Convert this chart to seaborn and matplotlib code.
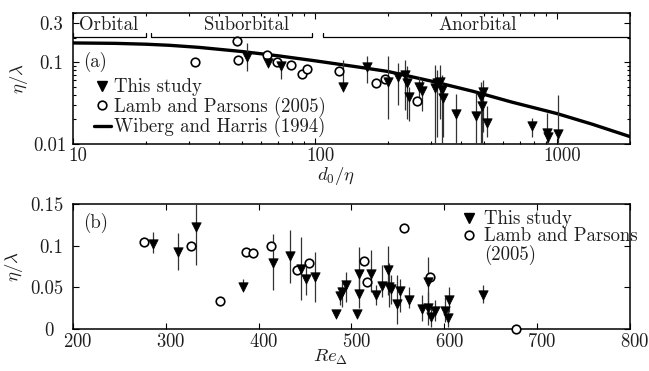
import numpy as np
import pandas as pd
import matplotlib
matplotlib.use('Agg')
import matplotlib.pyplot as plt
import matplotlib.transforms as mtransforms
from matplotlib.lines import Line2D
from matplotlib.ticker import FixedLocator, FixedFormatter, NullFormatter
import seaborn as sns

# ---------------- Panel (a): eta/lambda vs d0/eta ----------------
a_study_d = [52.4, 64.1, 72.6, 130, 164, 200, 220, 236, 240, 244, 268, 277,
             314, 320, 329, 336, 338, 381, 461, 485, 488, 495, 512,
             785, 904, 913, 1010]
a_study_eta = [0.117, 0.099, 0.090, 0.050, 0.088, 0.058, 0.066, 0.070, 0.055, 0.038,
               0.050, 0.045, 0.048, 0.055, 0.058, 0.046, 0.036, 0.0235, 0.0222,
               0.038, 0.029, 0.043, 0.018, 0.0165, 0.0137, 0.012, 0.0134]
a_study_lo = [0.077, 0.090, 0.062, 0.050, 0.055, 0.020, 0.030, 0.026, 0.020, 0.019,
              0.030, 0.025, 0.010, 0.012, 0.020, 0.010, 0.012, 0.010, 0.010,
              0.010, 0.010, 0.014, 0.0122, 0.012, 0.010, 0.010, 0.010]
a_study_hi = [0.171, 0.110, 0.098, 0.105, 0.120, 0.120, 0.097, 0.107, 0.090, 0.050,
              0.065, 0.060, 0.093, 0.080, 0.093, 0.070, 0.050, 0.041, 0.042,
              0.058, 0.045, 0.060, 0.029, 0.0205, 0.0236, 0.015, 0.040]

a_lp_d = [32.0, 47.6, 48.1, 63.3, 69.5, 79.4, 88.7, 93.0, 126, 179, 195, 263]
a_lp_eta = [0.100, 0.184, 0.105, 0.123, 0.100, 0.093, 0.071, 0.082, 0.079, 0.056, 0.0625, 0.034]

wh_d = [10, 15, 20, 25, 33, 50, 70, 100, 150, 200, 300, 450, 650, 1000, 1400, 2000]
wh_eta = [0.172, 0.170, 0.166, 0.161, 0.152, 0.135, 0.120, 0.104, 0.0875, 0.077,
          0.059, 0.044, 0.0325, 0.0235, 0.0174, 0.0123]

regime_names = ["Orbital", "Suborbital", "Anorbital"]
regime_start = [10, 21, 108]
regime_end = [20, 97, 2000]
regime_label_x = [14, 52, 469]

# ---------------- Panel (b): eta/lambda vs Re_Delta ----------------
b_study_re = [286, 313, 333, 383, 415, 434, 446, 451, 461, 483, 488, 490, 494, 506,
              508, 508, 521, 526, 533, 539, 540, 543, 549, 552, 562, 576, 582, 582,
              586, 590, 601, 604, 605, 642]
b_study_eta = [0.102, 0.092, 0.123, 0.051, 0.079, 0.088, 0.072, 0.060, 0.062, 0.0175,
               0.040, 0.045, 0.053, 0.0185, 0.066, 0.042, 0.066, 0.041, 0.052, 0.071,
               0.051, 0.048, 0.030, 0.046, 0.035, 0.024, 0.057, 0.025, 0.014, 0.022,
               0.022, 0.013, 0.035, 0.041]
b_study_lo = [0.091, 0.071, 0.077, 0.051, 0.047, 0.055, 0.035, 0.041, 0.033, 0.0175,
              0.029, 0.027, 0.033, 0.0185, 0.041, 0.025, 0.045, 0.029, 0.039, 0.041,
              0.026, 0.030, 0.006, 0.020, 0.025, 0.010, 0.025, 0.005, 0.002, 0.010,
              0.008, 0.003, 0.020, 0.031]
b_study_hi = [0.116, 0.115, 0.150, 0.060, 0.114, 0.119, 0.110, 0.074, 0.093, 0.0175,
              0.047, 0.056, 0.068, 0.0185, 0.099, 0.065, 0.095, 0.053, 0.077, 0.100,
              0.079, 0.065, 0.065, 0.060, 0.051, 0.041, 0.087, 0.045, 0.030, 0.035,
              0.038, 0.025, 0.050, 0.053]

b_lp_re = [276, 327, 358, 386, 394, 413, 441, 454, 513, 517, 557, 585, 677]
b_lp_eta = [0.104, 0.100, 0.034, 0.093, 0.091, 0.100, 0.071, 0.079, 0.082, 0.056,
            0.121, 0.063, 0.0]

# ---------------- style ----------------
sns.set_theme(style='ticks')
plt.rcParams['font.family'] = ['cmr10', 'DejaVu Serif']
plt.rcParams['mathtext.fontset'] = 'cm'
plt.rcParams['axes.formatter.use_mathtext'] = True
plt.rcParams['axes.unicode_minus'] = False
FS = 13.5
TC = '0.12'

fig = plt.figure(figsize=(6.49, 3.71), dpi=100)
ax1 = fig.add_axes([0.1125, 0.612, 0.8582, 0.353])
ax2 = fig.add_axes([0.1125, 0.113, 0.8582, 0.337])

tri_s = 46
circ_s = 38

# ----- panel (a)
da = pd.DataFrame({'d': a_study_d, 'eta': a_study_eta, 'lo': a_study_lo, 'hi': a_study_hi})
dl = pd.DataFrame({'d': a_lp_d, 'eta': a_lp_eta})
dw = pd.DataFrame({'d': wh_d, 'eta': wh_eta})

ax1.set_xscale('log')
ax1.set_yscale('log')
sns.lineplot(data=dw, x='d', y='eta', color='black', lw=2.4, ax=ax1, legend=False, zorder=2)
ax1.vlines(da['d'], da['lo'], da['hi'], color='0.2', lw=0.9, zorder=3)
sns.scatterplot(data=dl, x='d', y='eta', marker='o', s=circ_s, color='white',
                edgecolor='black', linewidth=1.2, ax=ax1, legend=False, zorder=4)
sns.scatterplot(data=da, x='d', y='eta', marker='v', s=tri_s, color='black',
                edgecolor='black', linewidth=0.5, ax=ax1, legend=False, zorder=5)
ax1.set_xlim(10, 2000)
ax1.set_ylim(0.01, 0.4)

ax1.xaxis.set_major_locator(FixedLocator([10, 100, 1000]))
ax1.xaxis.set_major_formatter(FixedFormatter(['10', '100', '1000']))
xminor = [m * 10 ** k for k in (1, 2, 3) for m in range(2, 10) if m * 10 ** k <= 2000]
ax1.xaxis.set_minor_locator(FixedLocator(xminor))
ax1.xaxis.set_minor_formatter(NullFormatter())
ax1.yaxis.set_major_locator(FixedLocator([0.01, 0.1, 0.3]))
ax1.yaxis.set_major_formatter(FixedFormatter(['0.01', '0.1', '0.3']))
yminor = [m * 0.01 for m in range(2, 10)] + [0.2, 0.4]
ax1.yaxis.set_minor_locator(FixedLocator(yminor))
ax1.yaxis.set_minor_formatter(NullFormatter())

ax1.set_xlabel(r'$d_0/\eta$', fontsize=FS, color=TC)
ax1.set_ylabel(r'$\eta/\lambda$', fontsize=FS, color=TC)
ax1.xaxis.set_label_coords(0.472, -0.16)
ax1.yaxis.set_label_coords(-0.078, 0.5)

# regimes
trans = mtransforms.blended_transform_factory(ax1.transData, ax1.transAxes)
for name, x0, x1, xl in zip(regime_names, regime_start, regime_end, regime_label_x):
    ax1.plot([x0, x0, x1, x1], [0.85, 0.815, 0.815, 0.85], color='black', lw=0.9,
             transform=trans, clip_on=True, zorder=6)
    ax1.text(xl, 0.905, name, transform=trans, ha='center', va='center',
             fontsize=FS, color=TC)

ax1.text(0.018, 0.625, '(a)', transform=ax1.transAxes, fontsize=FS, color=TC,
         ha='left', va='center')

h1 = [Line2D([], [], marker='v', color='black', ls='none', markersize=7.5),
      Line2D([], [], marker='o', color='black', mfc='white', ls='none', markersize=6.2,
             mew=1.2),
      Line2D([], [], color='black', lw=2.4)]
ax1.legend(h1, ['This study', 'Lamb and Parsons (2005)', 'Wiberg and Harris (1994)'],
           loc='lower left', bbox_to_anchor=(0.014, -0.05), frameon=False, fontsize=FS,
           handlelength=0.9, handletextpad=0.15, labelspacing=0.02, borderaxespad=0.3,
           labelcolor=TC)

# ----- panel (b)
db = pd.DataFrame({'re': b_study_re, 'eta': b_study_eta, 'lo': b_study_lo, 'hi': b_study_hi})
dbl = pd.DataFrame({'re': b_lp_re, 'eta': b_lp_eta})
ax2.vlines(db['re'], db['lo'], db['hi'], color='0.2', lw=0.9, zorder=3)
sns.scatterplot(data=dbl, x='re', y='eta', marker='o', s=circ_s, color='white',
                edgecolor='black', linewidth=1.2, ax=ax2, legend=False, zorder=4,
                clip_on=False)
sns.scatterplot(data=db, x='re', y='eta', marker='v', s=tri_s, color='black',
                edgecolor='black', linewidth=0.5, ax=ax2, legend=False, zorder=5)
ax2.set_xlim(200, 800)
ax2.set_ylim(0, 0.15)
ax2.xaxis.set_major_locator(FixedLocator([200, 300, 400, 500, 600, 700, 800]))
ax2.yaxis.set_major_locator(FixedLocator([0, 0.05, 0.1, 0.15]))
ax2.yaxis.set_major_formatter(FixedFormatter(['0', '0.05', '0.1', '0.15']))
ax2.set_xlabel(r'$Re_\Delta$', fontsize=FS, color=TC)
ax2.set_ylabel(r'$\eta/\lambda$', fontsize=FS, color=TC)
ax2.xaxis.set_label_coords(0.463, -0.15)
ax2.yaxis.set_label_coords(-0.086, 0.5)
ax2.text(0.018, 0.85, '(b)', transform=ax2.transAxes, fontsize=FS, color=TC,
         ha='left', va='center')

h2 = [Line2D([], [], marker='v', color='black', ls='none', markersize=7.5),
      Line2D([], [], marker='o', color='black', mfc='white', ls='none', markersize=6.2,
             mew=1.2),
      Line2D([], [], ls='none')]
ax2.legend(h2, ['This study', 'Lamb and Parsons', '(2005)'], loc='upper left',
           bbox_to_anchor=(0.672, 1.055), frameon=False, fontsize=FS,
           handlelength=0.9, handletextpad=0.35, labelspacing=-0.05, borderaxespad=0.3,
           labelcolor=TC)

for ax in (ax1, ax2):
    ax.tick_params(which='both', direction='in', top=True, right=True,
                   labelsize=FS, colors='black', labelcolor=TC, width=0.8)
    ax.tick_params(which='major', length=4)
    ax.tick_params(which='minor', length=2.2)
    ax.tick_params(axis='x', pad=2.5)
    for sp in ax.spines.values():
        sp.set_linewidth(1.1)
        sp.set_color('black')
ax1.tick_params(axis='y', pad=4.5)
ax2.tick_params(axis='y', pad=7)

# small label offsets as in the original typesetting
fig.canvas.draw()
def shift(lab, dx_px, dy_px=0):
    lab.set_transform(lab.get_transform() +
                      mtransforms.ScaledTranslation(dx_px / 100, dy_px / 100,
                                                    fig.dpi_scale_trans))
for ax in (ax1, ax2):
    for t in ax.xaxis.get_major_ticks():
        shift(t.label1, 5)
for t in ax1.yaxis.get_major_ticks()[1:]:
    shift(t.label1, -4)
shift(ax2.yaxis.get_major_ticks()[0].label1, -10)

fig.savefig('out.png', dpi=100)
